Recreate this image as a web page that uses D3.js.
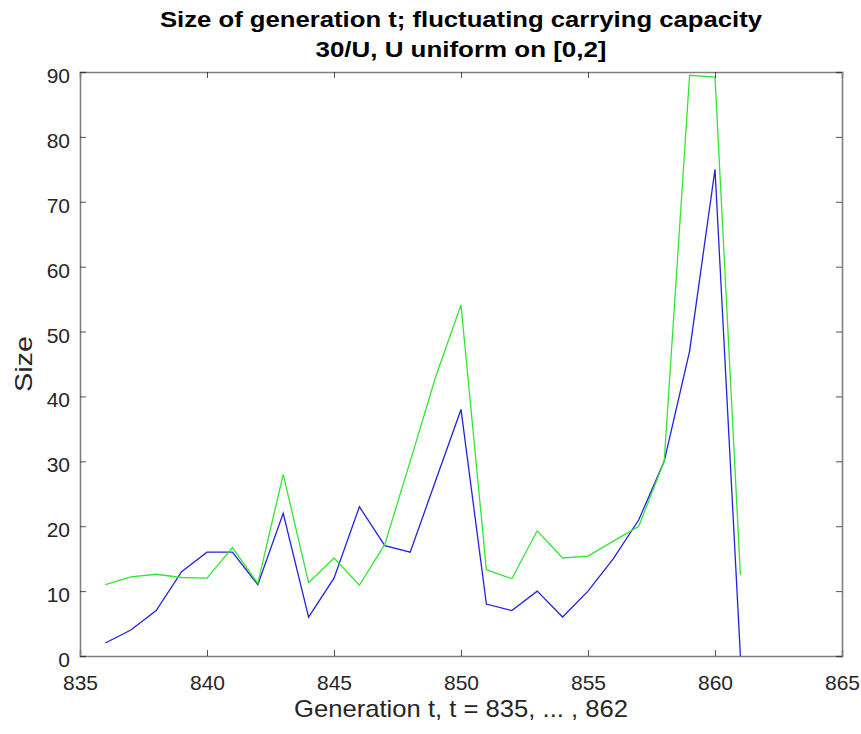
<!DOCTYPE html>
<html>
<head>
<meta charset="utf-8">
<script src="https://cdn.jsdelivr.net/npm/d3@7"></script>
<style>
  body { margin: 0; background: #fff; }
  text { font-family: "Liberation Sans", Arial, Helvetica, sans-serif; }
</style>
</head>
<body>
<svg id="chart"></svg>
<script>
const generations = d3.range(836, 862)
const sizeBlue = [2, 4, 7, 13, 16, 16, 11, 22, 6, 12, 23, 17, 16, 27, 38, 8, 7, 10, 6, 10, 15, 21, 30, 47, 75, 0]
const sizeGreen = [11, 12.2, 12.6, 12.1, 12, 16.7, 11.2, 28, 11.3, 15.1, 10.9, 17.2, 30, 43, 54.1, 13.3, 11.9, 19.3, 15.1, 15.4, 17.7, 20, 30, 89.5, 89.2, 12.5]
const xTicks = [835, 840, 845, 850, 855, 860, 865]
const yTicks = [0, 10, 20, 30, 40, 50, 60, 70, 80, 90]

drawChart()

function drawChart() {
    const width = 861
    const height = 734
    const m = { left: 80, right: 19, top: 72, bottom: 78 }
    const axisColor = '#808080'
    const textColor = '#262626'

    const svg = d3.select('#chart')
        .attr('width', width)
        .attr('height', height)

    const x = d3.scaleLinear().domain([835, 865]).range([m.left, width - m.right])
    const y = d3.scaleLinear().domain([0, 90]).range([height - m.bottom, m.top])
    const cx = (x(835) + x(865)) / 2

    svg.append('clipPath').attr('id', 'plot')
        .append('rect')
        .attr('x', m.left).attr('y', m.top)
        .attr('width', x(865) - x(835)).attr('height', y(0) - y(90))

    const line = d3.line()
        .x((d, i) => x(generations[i]))
        .y(d => y(d))

    const plot = svg.append('g').attr('clip-path', 'url(#plot)')

    plot.append('path')
        .datum(sizeBlue)
        .attr('d', line)
        .style('fill', 'none')
        .style('stroke', '#2222e0')
        .style('stroke-width', 1.3)

    plot.append('path')
        .datum(sizeGreen)
        .attr('d', line)
        .style('fill', 'none')
        .style('stroke', '#33e633')
        .style('stroke-width', 1.3)

    // axes, matlab style: ticks inside, mirrored on the box
    const tickLen = 6
    const axes = [
        [d3.axisBottom(x).tickValues(xTicks).tickSize(-tickLen).tickPadding(19), `translate(0,${y(0)})`, true],
        [d3.axisTop(x).tickValues(xTicks).tickSize(-tickLen), `translate(0,${y(90)})`, false],
        [d3.axisLeft(y).tickValues(yTicks).tickSize(-tickLen).tickPadding(10), `translate(${x(835)},0)`, true],
        [d3.axisRight(y).tickValues(yTicks).tickSize(-tickLen), `translate(${x(865)},0)`, false]
    ]

    axes.forEach(([axis, tr, labels]) => {
        const g = svg.append('g').attr('transform', tr).call(axis)
        g.select('.domain').style('stroke', axisColor).style('stroke-width', 1.6)
        g.selectAll('.tick line').style('stroke', textColor).style('stroke-width', 0.8)
        g.selectAll('.tick text')
            .style('font-size', '21px')
            .style('fill', textColor)
            .style('display', labels ? null : 'none')
    })
    svg.selectAll('.tick text').filter(function() { return this.getAttribute('dy') === '0.32em' })
        .attr('dy', '0.5em')

    const label = (txt, px, len) => svg.append('text')
        .attr('text-anchor', 'middle')
        .attr('textLength', len)
        .attr('lengthAdjust', 'spacingAndGlyphs')
        .style('font-size', px + 'px')
        .text(txt)

    label('Size of generation t; fluctuating carrying capacity', 22, 602)
        .attr('x', cx).attr('y', 27)
        .style('font-weight', 'bold').style('fill', '#000')

    label('30/U, U uniform on [0,2]', 22, 291)
        .attr('x', cx).attr('y', 57)
        .style('font-weight', 'bold').style('fill', '#000')

    label('Generation t, t = 835, ... , 862', 24, 334)
        .attr('x', cx).attr('y', 717)
        .style('fill', textColor)

    label('Size', 24, 56)
        .attr('transform', `translate(32,364) rotate(-90)`)
        .style('fill', textColor)
}
</script>
</body>
</html>
